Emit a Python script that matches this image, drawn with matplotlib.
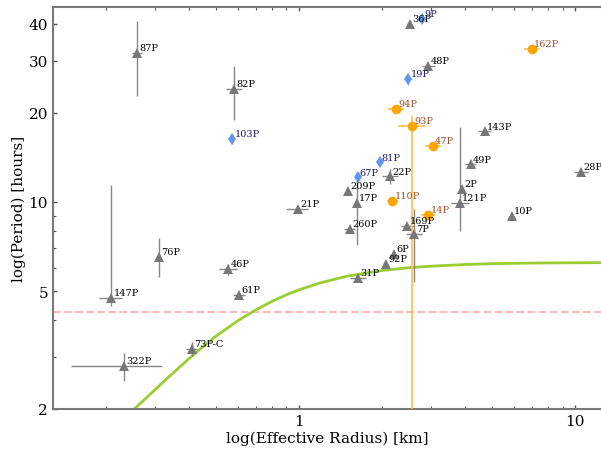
import matplotlib
matplotlib.use("Agg")
import matplotlib.pyplot as plt
import numpy as np

plt.rcParams['font.family'] = ['DejaVu Serif']

# ---- grey (triangles) ----
g_names = ["87P", "82P", "36P", "48P", "143P", "22P", "209P", "17P", "49P", "28P", "2P",
           "121P", "21P", "169P", "7P", "260P", "10P", "6P", "92P", "31P", "76P", "46P",
           "61P", "147P", "73P-C", "322P"]
g_r = [0.259, 0.584, 2.53, 2.94, 4.71, 2.14, 1.51, 1.62, 4.19, 10.5, 3.89,
       3.83, 0.99, 2.47, 2.61, 1.53, 5.89, 2.21, 2.07, 1.64, 0.311, 0.555,
       0.608, 0.209, 0.409, 0.233]
g_p = [31.9, 24.1, 40.0, 28.8, 17.3, 12.2, 10.9, 9.93, 13.4, 12.6, 11.1,
       9.93, 9.48, 8.30, 7.80, 8.11, 8.97, 6.68, 6.18, 5.54, 6.53, 5.94,
       4.85, 4.74, 3.19, 2.79]
g_r_lo = [0.011, 0.038, 0.0, 0.16, 0.25, 0.15, 0.0, 0.0, 0.2, 0.6, 0.0,
          0.28, 0.09, 0.13, 0.17, 0.07, 0.0, 0.0, 0.0, 0.11, 0.0, 0.04,
          0.03, 0.02, 0.02, 0.083]
g_r_hi = [0.011, 0.038, 0.0, 0.16, 0.25, 0.15, 0.0, 0.0, 0.2, 0.6, 0.0,
          0.28, 0.09, 0.13, 0.17, 0.07, 0.0, 0.0, 0.0, 0.11, 0.0, 0.04,
          0.03, 0.02, 0.02, 0.086]
g_p_lo = [9.1, 5.2, 0.0, 0.0, 0.0, 0.7, 0.0, 2.77, 0.0, 0.0, 0.0,
          1.94, 0.0, 0.0, 2.43, 0.0, 0.0, 0.0, 0.0, 0.0, 0.95, 0.25,
          0.0, 0.3, 0.18, 0.30]
g_p_hi = [9.0, 4.7, 0.0, 0.0, 0.0, 0.7, 0.0, 2.67, 0.0, 0.0, 0.0,
          7.97, 0.0, 0.0, 1.68, 0.0, 0.0, 0.0, 0.0, 0.0, 1.03, 0.25,
          0.0, 6.66, 0.18, 0.30]

# ---- orange (circles) ----
o_names = ["162P", "94P", "93P", "47P", "110P", "14P"]
o_r = [6.95, 2.25, 2.57, 3.06, 2.18, 2.94]
o_p = [32.9, 20.6, 18.1, 15.5, 10.1, 9.05]
o_r_err = [0.45, 0.15, 0.28, 0.2, 0.1, 0.18]
o_p_lo = [0.0, 0.0, 17.1, 0.0, 0.0, 0.0]
o_p_hi = [0.0, 0.0, 1.4, 0.0, 0.0, 0.0]

# ---- blue (diamonds) ----
b_names = ["9P", "19P", "103P", "81P", "67P"]
b_r = [2.79, 2.49, 0.574, 1.96, 1.63]
b_p = [41.6, 26.0, 16.3, 13.6, 12.1]
b_r_err = [0.04, 0.08, 0.01, 0.03, 0.03]
b_p_err = [0.8, 1.2, 0.6, 0.4, 0.4]

# ---- curve and reference line ----
c_r = [0.25, 0.28, 0.32, 0.36, 0.40, 0.45, 0.50, 0.60, 0.70, 0.80, 0.90, 1.0, 1.2,
       1.5, 2.0, 2.5, 3.0, 4.0, 5.0, 7.0, 9.0, 12.5]
c_p = [1.98, 2.18, 2.45, 2.71, 2.96, 3.25, 3.52, 3.97, 4.33, 4.62, 4.86, 5.05, 5.34,
       5.62, 5.87, 6.00, 6.07, 6.15, 6.19, 6.22, 6.23, 6.24]
line_p = 4.25

fig = plt.figure(figsize=(6.01, 4.52), dpi=100)
ax = fig.add_axes([0.088, 0.093, 0.912, 0.889])
ax.set_xscale('log')
ax.set_yscale('log')

ax.plot(c_r, c_p, color='#9ACD32', lw=2, zorder=2)
ax.axhline(line_p, color='#FFB6C1', lw=1.5, ls='--', zorder=1)

ax.errorbar(g_r, g_p, xerr=[g_r_lo, g_r_hi], yerr=[g_p_lo, g_p_hi], fmt='^',
            color='#777777', ecolor='#888888', ms=7, elinewidth=1, capsize=2.5,
            mew=0, zorder=3)
ax.errorbar(o_r, o_p, xerr=o_r_err, yerr=[o_p_lo, o_p_hi], fmt='o',
            color='#FFA500', ecolor='#FFC050', ms=7, elinewidth=1.2, capsize=2.5,
            mew=0, zorder=3)
ax.errorbar(b_r, b_p, xerr=b_r_err, yerr=b_p_err, fmt='d',
            color='#6495ED', ecolor='#8AB0F0', ms=6.5, elinewidth=1, capsize=1.5,
            mew=0, zorder=3)

for n, x, y in zip(g_names, g_r, g_p):
    ax.annotate(n, (x, y), xytext=(1.5, 2), textcoords='offset points',
                fontsize=7, color='black', zorder=4)
for n, x, y in zip(o_names, o_r, o_p):
    ax.annotate(n, (x, y), xytext=(1.5, 2), textcoords='offset points',
                fontsize=7, color='#A0522D', zorder=4)
for n, x, y in zip(b_names, b_r, b_p):
    ax.annotate(n, (x, y), xytext=(1.5, 2), textcoords='offset points',
                fontsize=7, color='#191970', zorder=4)

ax.set_xlim(0.1285, 12.4)
ax.set_ylim(2, 45.5)
ax.set_yticks([2, 5, 10, 20, 30, 40])
ax.set_yticklabels(['2', '5', '10', '20', '30', '40'])
ax.set_xticks([1, 10])
ax.set_xticklabels(['1', '10'])
ax.yaxis.set_minor_formatter(matplotlib.ticker.NullFormatter())
ax.xaxis.set_minor_formatter(matplotlib.ticker.NullFormatter())

for s in ['left', 'bottom', 'top']:
    ax.spines[s].set_color('#777777')
    ax.spines[s].set_linewidth(1.5)
ax.spines['right'].set_visible(False)
ax.tick_params(which='both', direction='in', color='#555555', top=True, right=False)
ax.tick_params(which='major', length=3, width=1, labelsize=11)
ax.tick_params(which='minor', length=2, width=0.8)

ax.set_xlabel('log(Effective Radius) [km]', fontsize=11, labelpad=2)
ax.set_ylabel('log(Period) [hours]', fontsize=11, labelpad=2)

fig.savefig('out.png', dpi=100)
